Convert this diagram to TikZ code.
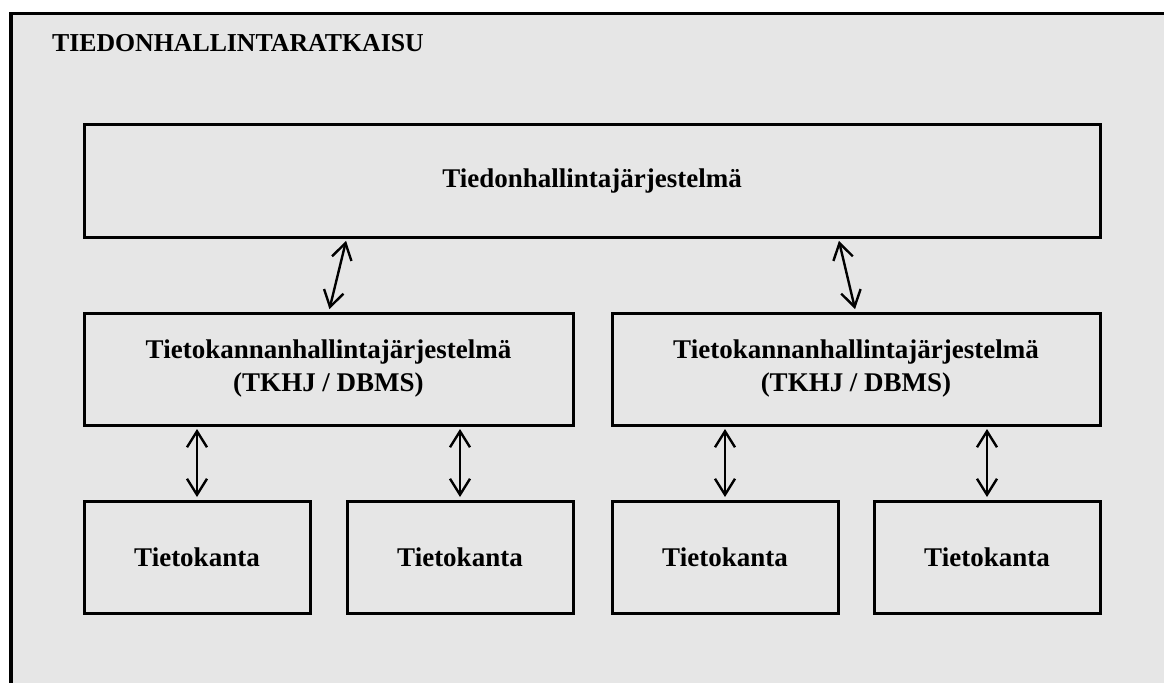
\documentclass[tikz,border=0pt]{standalone}
\usepackage{fontspec}
\setmainfont{Liberation Serif}
\usepackage{xcolor}
\usepackage{tikz}
\usetikzlibrary{arrows.meta, positioning}
\definecolor{panelgray}{RGB}{230,230,230}

\begin{document}
\begin{tikzpicture}[
        x=1pt, y=1pt,
        box/.style={rectangle, draw=black, line width=1.5pt, fill=panelgray,
                    minimum height=56pt, outer sep=0pt, align=center,
                    font=\fontsize{13.5}{16.5}\selectfont\bfseries},
        link/.style={{Straight Barb[length=8pt,width=10pt]}-{Straight Barb[length=8pt,width=10pt]},
                     line width=1.2pt, shorten <=2pt, shorten >=2pt},
      ]
      \useasboundingbox (0,0) rectangle (582,341);
      \fill[white] (0,0) rectangle (582,341);
      \draw[line width=1.75pt, fill=panelgray] (5.5,334.25) rectangle (620,-30);
      \node[anchor=base west, font=\fontsize{12.9}{16}\selectfont\bfseries] (title) at (22.5,315)
        {TIEDONHALLINTARATKAISU};
      \node[box, minimum width=508pt] (tdh) at (296,250.5) {Tiedonhallintajärjestelmä};
      \node[box, minimum width=244.5pt, below=38pt of tdh.south west, anchor=north west] (dbl)
        {Tietokannanhallintajärjestelmä\\(TKHJ / DBMS)};
      \node[box, minimum width=244pt, below=38pt of tdh.south east, anchor=north east] (dbr)
        {Tietokannanhallintajärjestelmä\\(TKHJ / DBMS)};
      \node[box, minimum width=113pt, below=38pt of dbl.south west, anchor=north west] (tk1) {Tietokanta};
      \node[box, minimum width=113pt, below=38pt of dbl.south east, anchor=north east] (tk2) {Tietokanta};
      \node[box, minimum width=113pt, below=38pt of dbr.south west, anchor=north west] (tk3) {Tietokanta};
      \node[box, minimum width=113pt, below=38pt of dbr.south east, anchor=north east] (tk4) {Tietokanta};
      \draw[link] ([xshift=-122.5pt]tdh.south) -- (dbl.north);
      \draw[link] ([xshift=123pt]tdh.south) -- (dbr.north);
      \draw[link] (dbl.south -| tk1.north) -- (tk1.north);
      \draw[link] (dbl.south -| tk2.north) -- (tk2.north);
      \draw[link] (dbr.south -| tk3.north) -- (tk3.north);
      \draw[link] (dbr.south -| tk4.north) -- (tk4.north);
    \end{tikzpicture}
\end{document}
